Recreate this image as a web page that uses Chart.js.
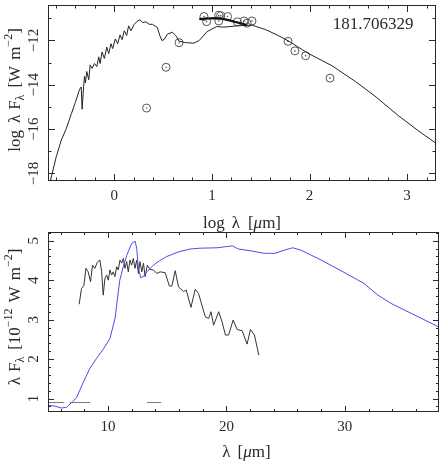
<!DOCTYPE html>
<html>
<head>
<meta charset="utf-8">
<script src="https://cdn.jsdelivr.net/npm/chart.js@4.4.1/dist/chart.umd.min.js"></script>
<style>
  html, body { margin: 0; padding: 0; background: #fff; }
  #wrap { position: relative; width: 441px; height: 463px; }
  canvas { position: absolute; left: 0; }
</style>
</head>
<body>
<div id="wrap">
  <canvas id="sedLin" width="441" height="232" style="top:231px"></canvas>
  <canvas id="sedLog" width="441" height="245" style="top:0"></canvas>
</div>
<script>
// ── Top panel: log λ vs log λFλ ──────────────────────────────────────────────
const modelLogLam = [-0.66, -0.64, -0.595, -0.544, -0.493, -0.44, -0.40, -0.357, -0.34, -0.33, -0.316, -0.306, -0.296,
  -0.283, -0.262, -0.248, -0.228, -0.204, -0.18, -0.16, -0.146, -0.126, -0.102, -0.078, -0.058, -0.034, -0.017,
  0.01, 0.034, 0.058, 0.079, 0.102, 0.126, 0.146, 0.17, 0.204, 0.238, 0.262, 0.29, 0.323, 0.357, 0.39, 0.44,
  0.466, 0.487, 0.51, 0.544, 0.595, 0.63, 0.663, 0.73, 0.816, 0.87, 0.95, 1.05, 1.12, 1.26, 1.41, 1.55, 1.68,
  1.79, 1.99, 2.23, 2.47, 2.67, 2.91, 3.11, 3.31];
const modelLogF = [-18.4, -18.05, -17.24, -16.5, -15.98, -15.3, -14.8, -14.21, -14.1, -15.1, -14.14, -13.62, -13.92,
  -13.4, -13.77, -13.1, -13.26, -13.04, -13.18, -12.74, -13.04, -12.52, -12.81, -12.3, -12.59, -12.15, -12.37,
  -11.93, -12.15, -11.75, -11.96, -11.56, -11.78, -11.34, -11.56, -11.27, -11.12, -11.07, -11.19, -11.16, -11.27,
  -11.27, -11.41, -11.78, -12.0, -11.96, -11.71, -11.63, -11.78, -12.03, -12.1, -12.12, -12.0, -11.6, -11.37,
  -11.4, -11.34, -11.31, -11.51, -11.78, -12.04, -12.59, -13.14, -13.85, -14.51, -15.39, -16.06, -16.68];

const specLogLam = [0.87, 0.95, 1.02, 1.09, 1.16, 1.26, 1.33, 1.36];
const specLogF   = [-11.04, -11.01, -10.99, -11.01, -11.07, -11.19, -11.27, -11.31];

const photLogLam = [0.33, 0.53, 0.663, 0.918, 0.945, 1.07, 1.09, 1.07, 1.16, 1.26, 1.33, 1.36, 1.41, 1.78, 1.85, 1.96, 2.21];
const photLogF   = [-15.05, -13.21, -12.1, -10.92, -11.15, -10.87, -10.89, -11.12, -10.92, -11.16, -11.12, -11.22, -11.12,
  -12.04, -12.47, -12.69, -13.7];

// ── Bottom panel: λ vs λFλ (10^-12 W m^-2) ────────────────────────────────────
const modelLam = [5.0, 5.5, 6.1, 6.5, 7.0, 7.35, 7.9, 8.47, 9.04, 9.6, 10.17, 10.6, 11.0, 11.3, 11.58, 12.0, 12.29,
  12.43, 12.57, 12.77, 12.99, 13.28, 13.84, 14.35, 14.97, 16.0, 16.95, 17.8, 19.2, 20.0, 20.5, 21.0, 22.1, 23.2,
  24.1, 25.0, 25.6, 26.3, 28.0, 30.1, 31.6, 32.8, 33.9, 35.6, 38.1];
const modelFlux = [0.83, 0.81, 0.76, 0.78, 0.92, 1.02, 1.4, 1.76, 2.02, 2.25, 2.52, 3.03, 4.0, 4.35, 4.62, 4.93, 4.99,
  4.81, 4.3, 4.06, 4.09, 4.21, 4.38, 4.49, 4.6, 4.72, 4.79, 4.81, 4.82, 4.85, 4.87, 4.79, 4.74, 4.68,
  4.68, 4.77, 4.82, 4.76, 4.51, 4.17, 3.92, 3.62, 3.41, 3.16, 2.79];

const irsLam = [7.57, 7.77, 7.97, 8.14, 8.33, 8.53, 8.70, 8.90, 9.09, 9.32, 9.47, 9.6, 9.75, 9.89, 10.03, 10.17, 10.31,
  10.45, 10.59, 10.74, 10.87, 11.02, 11.16, 11.3, 11.44, 11.58, 11.72, 11.86, 12.0, 12.14, 12.29, 12.43, 12.57,
  12.71, 12.86, 13.0, 13.14, 13.33, 13.56, 13.84, 14.12, 14.41, 14.83, 15.19, 15.4, 15.68, 15.96, 16.38, 16.61,
  17.01, 17.37, 17.65, 18.22, 18.5, 18.7, 18.92, 19.35, 19.64, 19.92, 20.19, 20.57, 20.91, 21.33, 21.75, 22.03,
  22.37, 22.74];
const irsFlux = [3.39, 3.79, 3.86, 4.30, 4.21, 3.96, 4.38, 4.30, 4.45, 4.51, 4.21, 3.62, 4.05, 4.13, 4.0, 4.26, 4.13,
  4.21, 4.09, 4.34, 4.26, 4.51, 4.43, 4.55, 4.30, 4.47, 4.21, 4.51, 4.38, 4.55, 4.30, 4.51, 4.17,
  4.47, 4.21, 4.43, 4.09, 4.38, 4.27, 4.26, 4.17, 4.21, 4.19, 3.85, 3.85, 4.24, 3.83, 3.71, 3.75,
  3.31, 3.77, 3.66, 3.07, 3.03, 3.2, 2.86, 3.2, 2.94, 2.61, 2.61, 2.99, 2.75, 2.72, 2.38, 2.75,
  2.61, 2.1];

const limitLam  = [4.9, 6.3, null, 6.8, 8.5, null, 13.3, 14.5];
const limitFlux = [0.9, 0.9, null, 0.9, 0.9, null, 0.9, 0.9];

const zip = (xs, ys) => xs.map((x, i) => ({ x, y: x === null ? null : ys[i] }));

// ── Frame / ticks / labels drawn with the chart's own scales ─────────────────
const FONT = "'Liberation Serif', 'DejaVu Serif', serif";
const INK = '#2a2a2a';

function steps(min, max, step) {
    const out = [];
    for (let k = Math.ceil(min / step - 1e-9); k * step <= max + 1e-9; k++) out.push(+(k * step).toFixed(6));
    return out;
}

function rich(ctx, parts, x, y, rot, size) {
    const fontOf = p => `${p.it ? 'italic ' : ''}${Math.round(size * (p.s || 1))}px ${FONT}`;
    let w = 0;
    parts.forEach(p => { ctx.font = fontOf(p); p.w = ctx.measureText(p.t).width + (p.pad || 0); w += p.w; });
    ctx.save();
    ctx.translate(x, y);
    ctx.rotate(rot);
    ctx.textAlign = 'left';
    ctx.textBaseline = 'alphabetic';
    let cx = -w / 2;
    parts.forEach(p => { ctx.font = fontOf(p); ctx.fillText(p.t, cx, p.dy || 0); cx += p.w; });
    ctx.restore();
}

const sedFrame = {
    id: 'sedFrame',
    afterDatasetsDraw(chart, args, o) {
        const { ctx, chartArea: a, scales: { x, y } } = chart;
        ctx.save();
        ctx.strokeStyle = INK;
        ctx.fillStyle = INK;
        ctx.lineWidth = 1;
        ctx.strokeRect(a.left + 0.5, a.top + 0.5, a.right - a.left - 1, a.bottom - a.top - 1);

        const [major, minor] = o.len;
        ctx.beginPath();
        steps(x.min, x.max, o.xMinor).forEach(v => {
            const px = Math.round(x.getPixelForValue(v)) + 0.5;
            const isMaj = Math.abs(v / o.xMajor - Math.round(v / o.xMajor)) < 1e-6;
            const l = isMaj ? major : minor;
            ctx.moveTo(px, a.bottom); ctx.lineTo(px, a.bottom - l);
            ctx.moveTo(px, a.top); ctx.lineTo(px, a.top + l);
        });
        steps(y.min, y.max, o.yMinor).forEach(v => {
            const py = Math.round(y.getPixelForValue(v)) + 0.5;
            const isMaj = Math.abs(v / o.yMajor - Math.round(v / o.yMajor)) < 1e-6;
            const l = isMaj ? major : minor;
            ctx.moveTo(a.left, py); ctx.lineTo(a.left + l, py);
            ctx.moveTo(a.right, py); ctx.lineTo(a.right - l, py);
        });
        ctx.stroke();

        const fmt = v => (v < 0 ? '\u2212' : '') + Math.abs(v);
        ctx.font = `${o.size}px ${FONT}`;
        ctx.textAlign = 'center';
        ctx.textBaseline = 'alphabetic';
        steps(x.min, x.max, o.xMajor).forEach(v => {
            ctx.fillText(fmt(v), x.getPixelForValue(v), a.bottom + o.xTickDy);
        });
        steps(y.min, y.max, o.yMajor).forEach(v => {
            ctx.save();
            ctx.translate(o.yTickX, y.getPixelForValue(v));
            ctx.rotate(-Math.PI / 2);
            ctx.fillText(fmt(v), 0, 0);
            ctx.restore();
        });

        rich(ctx, o.xTitle, (a.left + a.right) / 2 + o.xTitleDx, a.bottom + o.xTitleDy, 0, o.titleSize);
        rich(ctx, o.yTitle, o.yTitleX, o.yTitleY, -Math.PI / 2, o.titleSize);

        if (o.note) {
            ctx.font = `${o.note.size}px ${FONT}`;
            ctx.textAlign = 'center';
            ctx.fillText(o.note.t, o.note.x, o.note.y);
        }
        ctx.restore();
    }
};

const common = (frame, pad, xr, yr) => ({
    responsive: false,
    devicePixelRatio: 1,
    animation: false,
    events: [],
    layout: { padding: pad },
    plugins: { legend: { display: false }, tooltip: { enabled: false }, sedFrame: frame },
    scales: {
        x: { type: 'linear', min: xr[0], max: xr[1], display: false },
        y: { type: 'linear', min: yr[0], max: yr[1], display: false }
    }
});

new Chart(document.getElementById('sedLog'), {
    type: 'line',
    data: {
        datasets: [
            { data: zip(modelLogLam, modelLogF), borderColor: '#222', borderWidth: 1, pointRadius: 0 },
            { data: zip(specLogLam, specLogF), borderColor: '#111', borderWidth: 2.2, pointRadius: 0 },
            { data: zip(photLogLam, photLogF), showLine: false, pointRadius: 4, pointStyle: 'circle',
              borderColor: '#555', backgroundColor: 'rgba(0,0,0,0)', pointBorderWidth: 1 },
            { data: zip(photLogLam, photLogF), showLine: false, pointRadius: 0.8, pointStyle: 'circle',
              borderColor: '#555', backgroundColor: '#555', pointBorderWidth: 0 }
        ]
    },
    options: common({
        xMajor: 1, xMinor: 0.2, yMajor: 2, yMinor: 1, len: [7, 3.5], size: 15, titleSize: 17,
        xTickDy: 19, yTickX: 38,
        xTitle: [{ t: 'log', pad: 7 }, { t: 'λ', pad: 8 }, { t: '[' }, { t: 'μ', it: true }, { t: 'm]' }],
        xTitleDx: 0, xTitleDy: 47,
        yTitle: [{ t: 'log', pad: 7 }, { t: 'λ', pad: 5 }, { t: 'F' }, { t: 'λ', s: 0.7, dy: 4, pad: 7 },
                 { t: '[W', pad: 6 }, { t: 'm' }, { t: '\u22122', s: 0.7, dy: -8 }, { t: ']' }],
        yTitleX: 20, yTitleY: 90,
        note: { t: '181.706329', x: 373, y: 29, size: 17 }
    }, { left: 48, top: 2, right: 2, bottom: 64 }, [-0.68, 3.296], [-18.34, -10.4]),
    plugins: [sedFrame]
});

new Chart(document.getElementById('sedLin'), {
    type: 'line',
    data: {
        datasets: [
            { data: zip(limitLam, limitFlux), borderColor: '#777', borderWidth: 1, pointRadius: 0, spanGaps: false },
            { data: zip(modelLam, modelFlux), borderColor: '#4b4bf2', borderWidth: 1, pointRadius: 0 },
            { data: zip(irsLam, irsFlux), borderColor: '#333', borderWidth: 1, pointRadius: 0 }
        ]
    },
    options: common({
        xMajor: 10, xMinor: 2, yMajor: 1, yMinor: 0.2, len: [6, 3], size: 15, titleSize: 17,
        xTickDy: 19, yTickX: 38,
        xTitle: [{ t: 'λ', pad: 7 }, { t: '[' }, { t: 'μ', it: true }, { t: 'm]' }],
        xTitleDx: 3, xTitleDy: 45,
        yTitle: [{ t: 'λ', pad: 5 }, { t: 'F' }, { t: 'λ', s: 0.7, dy: 4, pad: 7 },
                 { t: '[10' }, { t: '\u221212', s: 0.7, dy: -8, pad: 6 }, { t: 'W', pad: 6 }, { t: 'm' },
                 { t: '\u22122', s: 0.7, dy: -8 }, { t: ']' }],
        yTitleX: 20, yTitleY: 86
    }, { left: 48, top: 1, right: 2, bottom: 51 }, [4.94, 37.95], [0.66, 5.22]),
    plugins: [sedFrame]
});
</script>
</body>
</html>
